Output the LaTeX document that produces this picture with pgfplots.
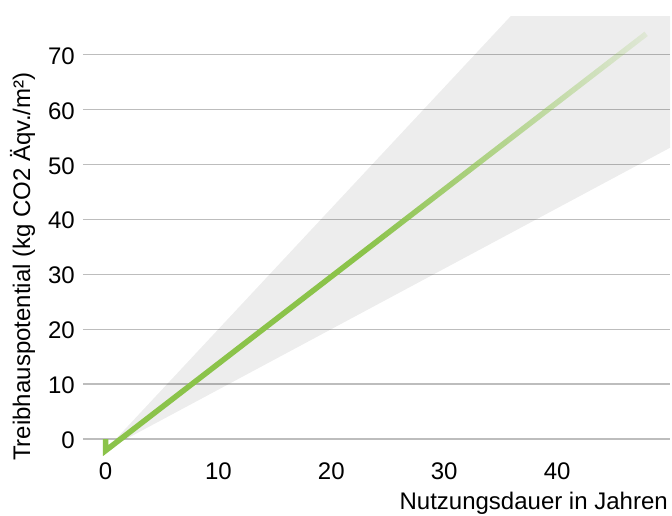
\documentclass[border=0pt]{standalone}
\usepackage{fontspec}
\setmainfont{Liberation Sans}
\usepackage{pgfplots}
\pgfplotsset{compat=1.18}
\usetikzlibrary{fadings}
\definecolor{lgreen}{HTML}{8BC34A}
\definecolor{gridgray}{HTML}{BDBDBD}
\pgfdeclarehorizontalshading{linefadeshade}{100bp}{rgb(0bp)=(1,1,1); rgb(49bp)=(1,1,1); rgb(62.5bp)=(0.55,0.55,0.55); rgb(75bp)=(0.13,0.13,0.13); rgb(100bp)=(0.13,0.13,0.13)}
\pgfdeclarefading{linefade}{\pgfuseshading{linefadeshade}}

\begin{document}
\fontsize{24}{28}\selectfont
\begin{tikzpicture}
\begin{axis}[
  scale only axis, width=587pt, height=438.5pt,
  xmin=-2, xmax=50, ymin=-3, ymax=76.8,
  xtick={0,10,20,30,40}, ytick={0,10,...,70},
  ymajorgrids, grid style={gridgray, line width=1.2pt},
  axis line style={draw=none}, major tick length=0pt,
  tick style={draw=none},
  /pgf/number format/assume math mode=true,
  ticklabel style={font=\fontsize{24}{28}\selectfont, inner sep=0pt},
  yticklabel style={xshift=-8pt, yshift=-1.5pt},
  xticklabel style={yshift=-7.5pt},
  xlabel={Nutzungsdauer in Jahren},
  ylabel={Treibhauspotential (kg CO2 Äqv./m²)},
  label style={font=\fontsize{24}{28}\selectfont, inner sep=0pt},
  xlabel style={at={(axis cs:49.82,-12.9)}, anchor=base east},
  ylabel style={at={(axis cs:-6.69,-4)}, anchor=base west},
]
\addplot[draw=none, fill=black, fill opacity=0.07] coordinates {(0,-2) (50,108) (50,53)} -- cycle;
\addplot[lgreen, line width=5.5pt, line join=miter, path fading=linefade, fit fading=true] coordinates {(0,0) (0,-2.1) (47.9,73.8)};
\end{axis}
\pgfresetboundingbox
\useasboundingbox (-83pt,-59.5pt) rectangle (589pt,455.5pt);
\end{tikzpicture}
\end{document}
